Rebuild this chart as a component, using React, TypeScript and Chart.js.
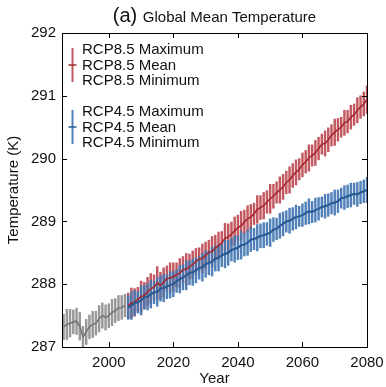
import React, { useEffect, useRef } from "react";
import { Chart, registerables } from "chart.js";
Chart.register(...registerables);

const histYears = [1986,1987,1988,1989,1990,1991,1992,1993,1994,1995,1996,1997,1998,1999,2000,2001,2002,2003,2004,2005];
const histMean = [287.32,287.36,287.38,287.40,287.41,287.33,287.16,287.24,287.32,287.36,287.38,287.45,287.50,287.47,287.50,287.55,287.58,287.62,287.63,287.66];
const histSpread = [0.2,0.24,0.22,0.19,0.21,0.22,0.17,0.2,0.19,0.21,0.19,0.21,0.2,0.2,0.19,0.21,0.19,0.2,0.19,0.18];

const rcpYears = [2006,2007,2008,2009,2010,2011,2012,2013,2014,2015,2016,2017,2018,2019,2020,2021,2022,2023,2024,2025,2026,2027,2028,2029,2030,2031,2032,2033,2034,2035,2036,2037,2038,2039,2040,2041,2042,2043,2044,2045,2046,2047,2048,2049,2050,2051,2052,2053,2054,2055,2056,2057,2058,2059,2060,2061,2062,2063,2064,2065,2066,2067,2068,2069,2070,2071,2072,2073,2074,2075,2076,2077,2078,2079,2080];
const rcp85Mean = [287.66,287.70,287.71,287.76,287.80,287.82,287.88,287.93,287.95,288.02,287.98,288.03,288.09,288.10,288.12,288.15,288.18,288.23,288.24,288.28,288.31,288.36,288.40,288.41,288.46,288.51,288.52,288.58,288.61,288.66,288.73,288.75,288.80,288.85,288.90,288.93,288.99,289.04,289.07,289.12,289.19,289.22,289.25,289.31,289.36,289.40,289.46,289.50,289.55,289.62,289.66,289.73,289.78,289.83,289.90,289.95,290.01,290.05,290.09,290.16,290.23,290.24,290.30,290.37,290.42,290.46,290.50,290.57,290.59,290.66,290.70,290.77,290.82,290.87,290.94];
const rcp85Spread = [0.2,0.24,0.22,0.19,0.25,0.21,0.23,0.24,0.2,0.26,0.21,0.23,0.2,0.24,0.22,0.19,0.23,0.21,0.25,0.2,0.22,0.21,0.18,0.23,0.21,0.19,0.24,0.2,0.22,0.18,0.24,0.21,0.19,0.22,0.2,0.23,0.19,0.21,0.2,0.17,0.22,0.19,0.21,0.18,0.23,0.19,0.17,0.21,0.2,0.18,0.21,0.19,0.2,0.17,0.19,0.18,0.21,0.17,0.2,0.18,0.16,0.2,0.19,0.17,0.21,0.18,0.16,0.2,0.18,0.19,0.17,0.2,0.18,0.19,0.22];
const rcp45Mean = [287.63,287.66,287.70,287.71,287.74,287.79,287.80,287.84,287.87,287.88,287.93,287.94,287.96,287.99,288.00,288.05,288.08,288.11,288.14,288.18,288.19,288.22,288.26,288.27,288.32,288.34,288.36,288.41,288.42,288.46,288.48,288.50,288.55,288.56,288.58,288.62,288.63,288.66,288.71,288.72,288.74,288.77,288.78,288.80,288.82,288.87,288.88,288.93,288.96,289.00,289.01,289.04,289.07,289.08,289.10,289.13,289.16,289.15,289.18,289.20,289.23,289.24,289.26,289.29,289.30,289.32,289.37,289.38,289.40,289.42,289.44,289.43,289.46,289.48,289.50];
const rcp45Spread = [0.19,0.22,0.2,0.17,0.23,0.19,0.21,0.22,0.18,0.23,0.2,0.22,0.19,0.21,0.2,0.18,0.22,0.2,0.23,0.19,0.21,0.2,0.18,0.22,0.21,0.19,0.23,0.2,0.21,0.18,0.22,0.2,0.18,0.21,0.19,0.22,0.18,0.2,0.19,0.17,0.21,0.19,0.2,0.18,0.22,0.19,0.17,0.2,0.19,0.17,0.2,0.18,0.19,0.16,0.18,0.18,0.2,0.17,0.19,0.18,0.16,0.19,0.18,0.17,0.2,0.18,0.16,0.19,0.18,0.19,0.17,0.19,0.18,0.18,0.2];

const xTicks = [2000, 2020, 2040, 2060, 2080];
const yTicks = [287, 288, 289, 290, 291, 292];

const RED_LINE = "rgb(165,40,46)";
const RED_BAR = "rgba(185,60,68,0.85)";
const BLUE_LINE = "rgb(38,88,148)";
const BLUE_BAR = "rgba(66,118,178,0.92)";
const GRAY_LINE = "rgb(118,118,118)";
const GRAY_BAR = "rgb(152,152,152)";
const FONT = "'Liberation Sans', Arial, sans-serif";

const boxPlugin = {
  id: "boxPlugin",
  afterDatasetsDraw(chart: any) {
    const { ctx, chartArea: a, scales } = chart;
    ctx.save();
    ctx.strokeStyle = "#000";
    ctx.lineWidth = 1;
    ctx.strokeRect(a.left + 0.5, a.top + 0.5, a.right - a.left, a.bottom - a.top);
    const tl = 5;
    ctx.beginPath();
    xTicks.forEach((v) => {
      const x = Math.round(scales.x.getPixelForValue(v)) + 0.5;
      ctx.moveTo(x, a.bottom); ctx.lineTo(x, a.bottom - tl);
      ctx.moveTo(x, a.top); ctx.lineTo(x, a.top + tl);
    });
    yTicks.forEach((v) => {
      const y = Math.round(scales.y.getPixelForValue(v)) + 0.5;
      ctx.moveTo(a.left, y); ctx.lineTo(a.left + tl, y);
      ctx.moveTo(a.right, y); ctx.lineTo(a.right - tl, y);
    });
    ctx.stroke();

    // legend
    const drawEntry = (x: number, yTop: number, lineColor: string, barColor: string, labels: string[]) => {
      ctx.strokeStyle = barColor;
      ctx.lineWidth = 2;
      ctx.beginPath();
      ctx.moveTo(x, yTop - 2); ctx.lineTo(x, yTop + 32);
      ctx.stroke();
      ctx.strokeStyle = lineColor;
      ctx.lineWidth = 1.5;
      ctx.beginPath();
      ctx.moveTo(x - 4, yTop + 15); ctx.lineTo(x + 4, yTop + 15);
      ctx.stroke();
      ctx.fillStyle = "#111";
      ctx.font = `15px ${FONT}`;
      ctx.textAlign = "left";
      ctx.textBaseline = "middle";
      labels.forEach((t, i) => ctx.fillText(t, a.left + 20, yTop + i * 15.5));
    };
    drawEntry(a.left + 10.5, a.top + 17, RED_LINE, RED_BAR, ["RCP8.5 Maximum", "RCP8.5 Mean", "RCP8.5 Minimum"]);
    drawEntry(a.left + 10.5, a.top + 79, BLUE_LINE, BLUE_BAR, ["RCP4.5 Maximum", "RCP4.5 Mean", "RCP4.5 Minimum"]);

    // title
    const cx = (a.left + a.right) / 2;
    ctx.fillStyle = "#111";
    ctx.textBaseline = "alphabetic";
    ctx.font = `20px ${FONT}`;
    const t1 = "(a) ";
    const w1 = ctx.measureText(t1).width;
    ctx.font = `15px ${FONT}`;
    const t2 = "Global Mean Temperature";
    const w2 = ctx.measureText(t2).width;
    const start = cx - (w1 + w2) / 2;
    ctx.font = `20px ${FONT}`;
    ctx.fillText(t1, start, 22);
    ctx.font = `15px ${FONT}`;
    ctx.fillText(t2, start + w1, 22);
    ctx.restore();
  },
};

function bars(years: number[], mean: number[], spread: number[]) {
  return years.map((y, i) => ({ x: y, y: [mean[i] - spread[i], mean[i] + spread[i]] }));
}
function pts(years: number[], mean: number[]) {
  return years.map((y, i) => ({ x: y, y: mean[i] }));
}

export default function App() {
  const ref = useRef<HTMLCanvasElement>(null);
  useEffect(() => {
    document.body.style.margin = "0";
    const chart = new Chart(ref.current!, {
      type: "bar",
      data: {
        datasets: [
          { type: "line", data: pts(rcpYears, rcp45Mean), borderColor: BLUE_LINE, borderWidth: 2, pointRadius: 0, order: 0 } as any,
          { type: "line", data: pts(rcpYears, rcp85Mean), borderColor: RED_LINE, borderWidth: 1.6, pointRadius: 0, order: 1 } as any,
          { type: "bar", data: bars(rcpYears, rcp45Mean, rcp45Spread), backgroundColor: BLUE_BAR, barThickness: 1.8, order: 2, grouped: false } as any,
          { type: "bar", data: bars(rcpYears, rcp85Mean, rcp85Spread), backgroundColor: RED_BAR, barThickness: 1.8, order: 3, grouped: false } as any,
          { type: "line", data: pts(histYears, histMean), borderColor: GRAY_LINE, borderWidth: 1.6, pointRadius: 0, order: 4 } as any,
          { type: "bar", data: bars(histYears, histMean, histSpread), backgroundColor: GRAY_BAR, barThickness: 1.8, order: 5, grouped: false } as any,
        ],
      },
      options: {
        animation: false,
        responsive: false,
        layout: { padding: { top: 33, right: 19, left: 0, bottom: 0 } },
        plugins: { legend: { display: false }, tooltip: { enabled: false } },
        scales: {
          x: {
            type: "linear",
            offset: false,
            min: 1985.5,
            max: 2080,
            grid: { display: false, drawTicks: false, offset: false },
            border: { display: false },
            afterBuildTicks: (s: any) => { s.ticks = xTicks.map((v) => ({ value: v })); },
            afterFit: (s: any) => { s.height = 40; s.paddingLeft = 0; s.paddingRight = 0; },
            ticks: { color: "#111", font: { family: FONT, size: 15 }, padding: 7, maxRotation: 0, callback: (v: any) => String(v) },
            title: { display: true, text: "Year", color: "#111", font: { family: FONT, size: 15, lineHeight: 1 }, padding: { top: 0, bottom: 1 } },
          },
          y: {
            type: "linear",
            min: 287,
            max: 292,
            grid: { display: false, drawTicks: false },
            border: { display: false },
            afterBuildTicks: (s: any) => { s.ticks = yTicks.map((v) => ({ value: v })); },
            afterFit: (s: any) => { s.width = 62; s.paddingTop = 0; s.paddingBottom = 0; },
            ticks: { color: "#111", font: { family: FONT, size: 15 }, padding: 6, callback: (v: any) => String(v) },
            title: { display: true, text: "Temperature (K)", color: "#111", font: { family: FONT, size: 15 }, padding: { top: 5, bottom: 0 } },
          },
        },
      },
      plugins: [boxPlugin],
    } as any);
    return () => chart.destroy();
  }, []);
  return (
    <div style={{ width: 386, height: 387 }}>
      <canvas ref={ref} width={386} height={387} />
    </div>
  );
}
